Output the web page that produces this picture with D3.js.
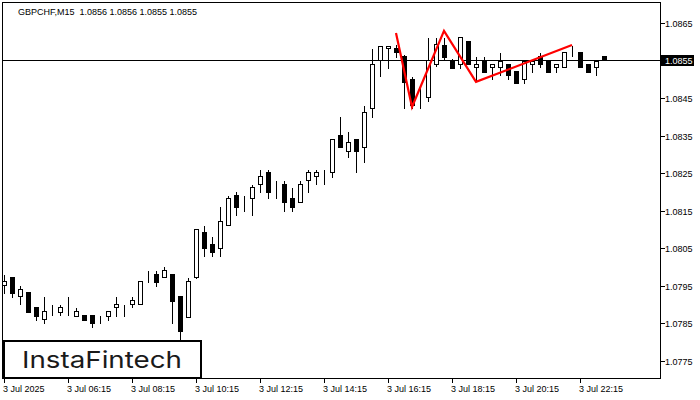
<!DOCTYPE html>
<html><head><meta charset="utf-8">
<script src="https://cdn.jsdelivr.net/npm/d3@7"></script>
<style>html,body{margin:0;padding:0;background:#fff;}svg{display:block;}</style>
</head><body>
<svg id="c" width="700" height="400"></svg>
<script>
const titleText = "GBPCHF,M15  1.0856 1.0856 1.0855 1.0855";
const opens = [1.07952,1.07974,1.07923,1.07934,1.07894,1.07862,1.07872,1.07880,1.07880,1.07870,
1.07872,1.07872,1.07862,1.07870,1.07894,1.07894,1.07902,1.07902,1.07974,1.07982,
1.07974,1.07982,1.07923,1.07867,1.07974,1.08093,1.08061,1.08051,1.08112,1.08192,
1.08173,1.08184,1.08221,1.08253,1.08213,1.08221,1.08184,1.08173,1.08232,1.08243,
1.08243,1.08253,1.08352,1.08309,1.08341,1.08320,1.08424,1.08551,1.08583,1.08583,
1.08562,1.08501,1.08442,1.08453,1.08541,1.08591,1.08551,1.08541,1.08602,1.08533,
1.08549,1.08533,1.08533,1.08541,1.08522,1.08501,1.08541,1.08562,1.08549,1.08533,
1.08533,1.08562,1.08573,1.08541,1.08533,1.08562];
const highs = [1.07982,1.07976,1.07952,1.07934,1.07894,1.07923,1.07902,1.07902,1.07923,1.07894,
1.07875,1.07872,1.07872,1.07883,1.07923,1.07902,1.07923,1.07963,1.07992,1.07992,
1.08003,1.07982,1.07923,1.07974,1.08101,1.08112,1.08083,1.08163,1.08192,1.08203,
1.08192,1.08221,1.08261,1.08261,1.08232,1.08232,1.08213,1.08232,1.08261,1.08261,
1.08261,1.08341,1.08402,1.08362,1.08341,1.08432,1.08583,1.08589,1.08589,1.08594,
1.08567,1.08509,1.08487,1.08613,1.08613,1.08613,1.08557,1.08613,1.08602,1.08562,
1.08562,1.08541,1.08573,1.08541,1.08522,1.08549,1.08549,1.08573,1.08549,1.08541,
1.08573,1.08591,1.08573,1.08541,1.08549,1.08562];
const lows = [1.07931,1.07920,1.07902,1.07880,1.07859,1.07851,1.07872,1.07872,1.07872,1.07870,
1.07859,1.07840,1.07851,1.07859,1.07870,1.07870,1.07894,1.07902,1.07960,1.07950,
1.07974,1.07851,1.07806,1.07867,1.07971,1.08030,1.08030,1.08030,1.08112,1.08139,
1.08149,1.08139,1.08200,1.08184,1.08184,1.08149,1.08149,1.08173,1.08200,1.08221,
1.08221,1.08240,1.08320,1.08293,1.08253,1.08280,1.08400,1.08509,1.08530,1.08559,
1.08424,1.08424,1.08424,1.08442,1.08535,1.08551,1.08530,1.08530,1.08541,1.08498,
1.08519,1.08501,1.08511,1.08501,1.08490,1.08490,1.08519,1.08533,1.08519,1.08519,
1.08533,1.08562,1.08533,1.08519,1.08511,1.08551];
const closes = [1.07963,1.07931,1.07942,1.07880,1.07870,1.07883,1.07872,1.07894,1.07880,1.07883,
1.07859,1.07851,1.07862,1.07883,1.07902,1.07894,1.07912,1.07963,1.07974,1.07960,
1.07992,1.07910,1.07830,1.07963,1.08101,1.08051,1.08040,1.08123,1.08184,1.08160,
1.08173,1.08213,1.08243,1.08200,1.08213,1.08173,1.08160,1.08221,1.08253,1.08253,
1.08243,1.08341,1.08320,1.08333,1.08309,1.08413,1.08541,1.08589,1.08589,1.08573,
1.08493,1.08432,1.08442,1.08551,1.08594,1.08559,1.08530,1.08613,1.08541,1.08541,
1.08519,1.08541,1.08549,1.08511,1.08490,1.08549,1.08549,1.08541,1.08519,1.08541,
1.08573,1.08562,1.08533,1.08519,1.08549,1.08551];
const xTickIdx = [0,8,16,24,32,40,48,56,64,72];
const xTickLabels = ["3 Jul 2025","3 Jul 06:15","3 Jul 08:15","3 Jul 10:15","3 Jul 12:15","3 Jul 14:15","3 Jul 16:15","3 Jul 18:15","3 Jul 20:15","3 Jul 22:15"];
const yTicks = [1.0775,1.0785,1.0795,1.0805,1.0815,1.0825,1.0835,1.0845,1.0855,1.0865];
const patternIdx = [49,51,55,59,71];
const patternPrice = [1.08623,1.08426,1.08629,1.08493,1.08591];
const lastPrice = 1.0855;

const svg = d3.select("#c");
const font = "'Liberation Sans', Arial, sans-serif";
const L = 2.5, T = 2.5, R = 660.5, B = 378.5;
const x = d3.scaleLinear().domain([0, 75]).range([4, 604]);
const y = d3.scaleLinear().domain([1.07702, 1.08703]).range([379, 3]);
const px = v => Math.round(x(v)) + 0.5;
const py = v => Math.round(y(v)) + 0.5;

svg.append("rect").attr("width",700).attr("height",400).attr("fill","#fff");

const candles = opens.map((o,i)=>({i,o,h:highs[i],l:lows[i],c:closes[i]}));
const g = svg.append("g").attr("shape-rendering","crispEdges");
g.append("line").attr("x1",L).attr("x2",R).attr("y1",py(lastPrice)).attr("y2",py(lastPrice))
 .attr("stroke","#000").attr("stroke-width",1);
g.selectAll("line.w").data(candles).join("line").attr("class","w")
 .attr("x1",d=>px(d.i)).attr("x2",d=>px(d.i))
 .attr("y1",d=>py(d.h)).attr("y2",d=>py(d.l)+0.5)
 .attr("stroke","#000");
g.selectAll("rect.b").data(candles).join("rect").attr("class","b")
 .attr("x",d=>px(d.i)-2).attr("width",4)
 .attr("y",d=>Math.min(py(d.o),py(d.c)))
 .attr("height",d=>Math.abs(py(d.o)-py(d.c)))
 .attr("fill",d=>d.c>=d.o?"#fff":"#000").attr("stroke","#000");

const pts = patternIdx.map((v,k)=>[x(v), y(patternPrice[k])]);
svg.append("path").attr("d", d3.line()(pts)).attr("fill","none")
 .attr("stroke","#ff0000").attr("stroke-width",2.2).attr("stroke-linejoin","miter");

g.append("rect").attr("x",L).attr("y",T).attr("width",R-L).attr("height",B-T)
 .attr("fill","none").attr("stroke","#000");

const ya = svg.append("g");
yTicks.forEach(t=>{
  ya.append("line").attr("x1",R).attr("x2",R+4).attr("y1",py(t)).attr("y2",py(t)).attr("stroke","#000").attr("shape-rendering","crispEdges");
  ya.append("text").attr("x",665).attr("y",py(t)+3.5).text(d3.format(".4f")(t))
    .attr("font-family",font).attr("font-size",9).attr("fill","#000");
});
ya.append("rect").attr("x",661).attr("y",py(lastPrice)-5.5).attr("width",33).attr("height",11).attr("fill","#000");
ya.append("text").attr("x",665).attr("y",py(lastPrice)+3.5).text(d3.format(".4f")(lastPrice))
  .attr("font-family",font).attr("font-size",9).attr("fill","#fff");

const xa = svg.append("g");
xTickIdx.forEach((t,k)=>{
  xa.append("line").attr("x1",px(t)).attr("x2",px(t)).attr("y1",B).attr("y2",B+4).attr("stroke","#000").attr("shape-rendering","crispEdges");
  xa.append("text").attr("x",px(t)-1.5).attr("y",392).text(xTickLabels[k])
    .attr("font-family",font).attr("font-size",9).attr("fill","#000");
});

svg.append("text").attr("x",18).attr("y",15).text(titleText).attr("xml:space","preserve")
  .style("white-space","pre").attr("font-family",font).attr("font-size",9).attr("fill","#000");

svg.append("rect").attr("x",4).attr("y",341).attr("width",197).attr("height",37)
  .attr("fill","#fff").attr("stroke","#000").attr("stroke-width",2);
svg.append("text").attr("x",102).attr("y",368).attr("text-anchor","middle").text("InstaFintech")
  .attr("font-family","Inter, sans-serif").attr("font-size",23.5).attr("font-weight",400)
  .attr("textLength",160).attr("lengthAdjust","spacingAndGlyphs").attr("fill","#1a1a1a");
</script>
</body></html>
